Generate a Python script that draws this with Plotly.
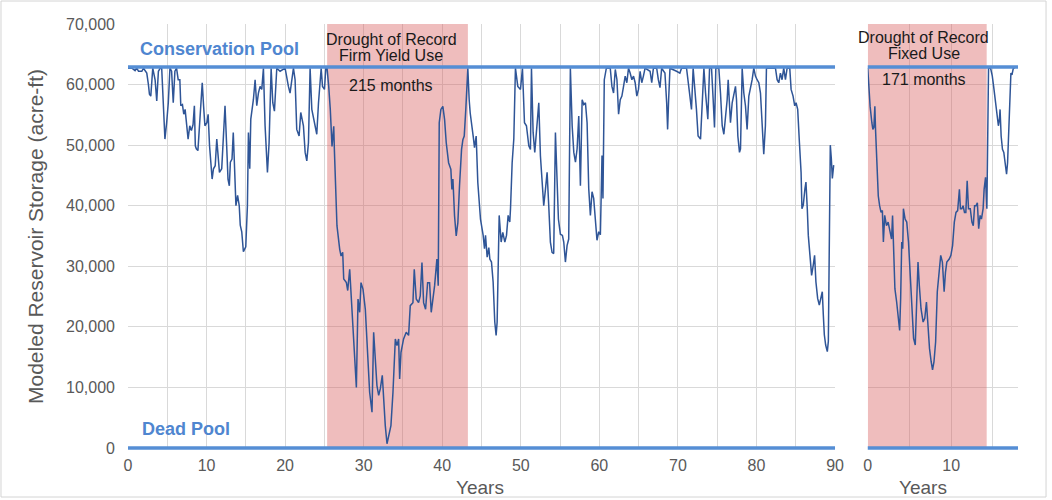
import plotly.graph_objects as go

# ---- Modeled storage, full period of record (years, acre-ft) ----
firm_years = [
    0.0, 0.5, 0.9, 1.1, 1.34, 1.76, 1.97, 2.39, 2.6, 2.73, 2.9, 3.15, 3.45, 3.66, 3.87, 4.1,
    4.29, 4.5, 4.7, 4.92, 5.13, 5.34, 5.55, 5.76, 5.97, 6.18, 6.39, 6.6, 6.72, 6.93, 7.1, 7.27,
    7.44, 7.65, 7.86, 8.07, 8.28, 8.45, 8.57, 8.7, 8.9, 9.2, 9.45, 9.62, 9.79, 10.04, 10.2,
    10.38, 10.59, 10.71, 10.88, 11.1, 11.3, 11.47, 11.64, 11.93, 12.14, 12.35, 12.56, 12.73,
    12.9, 13.03, 13.24, 13.4, 13.57, 13.74, 13.95, 14.16, 14.29, 14.48, 14.69, 14.99, 15.2,
    15.33, 15.5, 15.63, 15.96, 16.18, 16.39, 16.6, 16.81, 17.03, 17.24, 17.45, 17.75, 17.96,
    18.22, 18.43, 18.64, 18.94, 19.36, 20.0, 20.42, 20.63, 21.06, 21.27, 21.48, 21.78, 21.99,
    22.33, 22.55, 22.76, 22.97, 23.18, 23.4, 23.82, 24.03, 24.25, 24.46, 24.59, 24.76, 25.01,
    25.18, 25.34, 25.55, 25.75, 25.97, 26.19, 26.27, 26.6, 26.95, 27.12, 27.33, 27.46, 27.8,
    27.97, 28.22, 28.39, 28.6, 28.81, 29.07, 29.28, 29.49, 29.66, 29.92, 30.21, 30.51, 30.76,
    31.06, 31.27, 31.48, 31.69, 31.91, 32.12, 32.37, 32.54, 32.75, 32.97, 33.18, 33.47, 33.73,
    34.03, 34.24, 34.45, 34.58, 34.75, 35.08, 35.42, 35.72, 35.93, 36.27, 36.44, 36.69, 36.99,
    37.2, 37.42, 37.63, 37.88, 38.14, 38.39, 38.6, 38.81, 39.03, 39.32, 39.49, 39.62, 39.83,
    40.08, 40.3, 40.51, 40.81, 41.1, 41.23, 41.36, 41.57, 41.78, 41.99, 42.2, 42.46, 42.63,
    42.8, 43.0, 43.26, 43.43, 43.56, 43.94, 44.11, 44.32, 44.53, 44.87, 45.21, 45.38, 45.51,
    45.72, 45.93, 46.06, 46.27, 46.48, 46.69, 46.86, 46.99, 47.25, 47.5, 47.71, 47.97, 48.18,
    48.39, 48.6, 48.69, 48.9, 49.11, 49.32, 49.62, 49.96, 50.21, 50.47, 50.72, 51.02, 51.23,
    51.36, 51.57, 51.78, 51.99, 52.29, 52.5, 52.71, 52.92, 53.14, 53.35, 53.56, 53.77, 53.98,
    54.19, 54.41, 54.62, 54.79, 55.04, 55.3, 55.47, 55.68, 55.89, 56.1, 56.31, 56.54, 56.75,
    56.96, 57.17, 57.38, 57.59, 57.81, 58.02, 58.23, 58.44, 58.65, 58.86, 59.07, 59.28, 59.49,
    59.7, 59.92, 60.13, 60.34, 60.46, 60.63, 60.89, 61.39, 61.6, 61.81, 62.03, 62.24, 62.45,
    62.66, 62.87, 63.08, 63.29, 63.5, 63.71, 63.92, 64.14, 64.35, 64.56, 64.77, 64.98, 65.19,
    65.4, 65.61, 65.82, 66.46, 66.67, 66.88, 67.3, 67.51, 67.72, 67.93, 68.35, 68.57, 68.69,
    68.82, 68.99, 69.83, 70.25, 70.46, 71.1, 71.73, 71.94, 72.36, 72.57, 72.88, 73.09, 73.31,
    73.52, 73.81, 74.03, 74.28, 74.49, 74.66, 74.83, 75.21, 75.42, 75.64, 75.85, 76.06, 76.27,
    76.4, 76.53, 76.69, 76.91, 77.12, 77.33, 77.46, 77.63, 77.84, 77.97, 78.18, 78.39, 78.6,
    78.81, 79.03, 79.24, 79.45, 79.66, 79.87, 80.08, 80.3, 80.51, 80.72, 80.93, 81.14, 81.27,
    82.42, 82.63, 82.84, 83.05, 83.26, 83.47, 83.69, 83.9, 84.24, 84.41, 84.66, 84.87, 85.04,
    85.25, 85.47, 85.68, 85.79, 85.96, 86.17, 86.3, 86.47, 86.6, 86.81, 87.02, 87.23, 87.4,
    87.57, 87.79, 88.0, 88.21, 88.38, 88.51, 88.64, 88.81, 89.02, 89.15, 89.28, 89.4, 89.53,
    89.66, 89.83,
]
firm_storage = [
    62700, 62700, 62300, 62700, 62200, 62200, 62700, 61900, 60000, 58400, 58100, 62700, 60800, 57300, 62200, 62700,
    62700, 55900, 51000, 53700, 57000, 62700, 62200, 57000, 62200, 62700, 60800, 60800, 56500, 56700, 55100, 55900,
    53200, 51000, 53200, 52400, 53400, 56500, 49900, 49400, 49100, 54300, 60300, 56500, 53200, 53700, 55100,
    49900, 46100, 44400, 46100, 46600, 51000, 47700, 45500, 46100, 51500, 56500, 49900, 44400,
    43300, 47200, 47700, 52100, 46100, 40000, 41700, 40000, 36800, 35700, 32400, 33200, 40000,
    52100, 46100, 54300, 57500, 60800, 56500, 58600, 59700, 59200, 62700, 53200, 45500, 50400,
    62700, 57000, 55600, 62700, 62200, 62700, 59700, 58600, 62700, 60800, 52600, 51500, 55400,
    53200, 48800, 47400, 50400, 62700, 55900, 53400, 51800, 57000, 60800, 62700, 59700, 59200,
    62700, 62700, 59700, 55900, 49800, 53100, 49300, 36700, 32800, 31700, 32300, 27900, 27300,
    26000, 29500, 25700, 19600, 14700, 10000, 24600, 22400, 27300, 26200, 22900, 14700, 9200,
    5900, 19100, 14700, 10300, 8700, 9800, 12000, 7600, 3700, 700, 2000, 3700, 9200,
    18000, 16900, 18000, 11400, 15800, 18000, 19100, 18600, 23500, 24000, 29500, 24600, 24000,
    25100, 30600, 24000, 22900, 27300, 27300, 22400, 24600, 26800, 31200, 26800, 53700, 55900,
    56400, 54200, 50400, 47100, 46000, 42700, 44400, 38300, 35000, 37200, 43300, 49300, 50900,
    51500, 55900, 62700, 57500, 55300, 51500, 49600, 51500, 43800, 37800, 35100, 32900, 35100,
    31500, 33100, 31200, 30700, 27400, 20800, 18600, 20800, 38400, 34000, 35600, 34000, 35100,
    38400, 37300, 39500, 47100, 51000, 62700, 59700, 59200, 62700, 53700, 53200, 49900, 49300,
    62700, 52100, 48800, 52600, 57000, 48200, 43300, 40000, 42700, 45500, 40000, 34000, 32300,
    32100, 52100, 43800, 37800, 35300, 35100, 34000, 30700, 33400, 34500, 62700, 53200, 48800,
    47200, 49400, 54800, 43300, 57500, 56700, 57000, 53700, 42800, 38400, 42300, 41200, 36800,
    34300, 35700, 35200, 48300, 41200, 60800, 62700, 62700, 59700, 58600, 62500, 60800, 55100,
    57500, 58100, 59700, 61400, 60300, 62700, 61900, 60800, 61400, 60300, 58100, 59200, 62200,
    60300, 61400, 62700, 62200, 60300, 62700, 62700, 60800, 59500, 62700, 61900, 57000, 52600,
    57500, 62700, 62200, 61900, 62700, 62700, 55900, 62700, 55900, 51500, 51000, 57000, 62700,
    58600, 54300, 62700, 62700, 57500, 52900, 62700, 62700, 58600, 53200, 51800, 54800, 57500,
    60800, 56500, 53700, 57000, 58100, 59700, 57500, 51500, 48800, 49400, 62700, 58600, 56500,
    52600, 58100, 59200, 60800, 62700, 61400, 60800, 60300, 58600, 53200, 48500, 53200, 62700,
    62700, 60800, 60300, 61900, 60800, 62700, 60800, 62700, 62700, 59200, 58100, 56500, 57000,
    55900, 50400, 45500, 39500, 40100, 42800, 43900, 39500, 35100, 31800, 28500, 30200, 31800,
    27400, 24700, 23600, 25200, 25800, 22000, 18700, 17000, 15900, 17600, 32900, 50000, 47800,
    44500, 46700,
]

# ---- Modeled storage, drought-of-record run at fixed use (years, acre-ft) ----
fixed_years = [
    0.0, 0.12, 0.28, 0.49, 0.61, 0.73, 0.85, 0.93, 1.1, 1.26, 1.42, 1.59, 1.75, 1.87, 2.03,
    2.24, 2.44, 2.64, 2.85, 2.97, 3.13, 3.25, 3.46, 3.66, 3.82, 3.94, 4.07, 4.19, 4.27, 4.47,
    4.67, 4.88, 5.08, 5.28, 5.49, 5.69, 5.85, 6.02, 6.18, 6.38, 6.63, 6.83, 7.03, 7.2, 7.4,
    7.6, 7.76, 7.93, 8.13, 8.33, 8.54, 8.74, 8.94, 9.15, 9.31, 9.47, 9.76, 9.96, 10.16, 10.37,
    10.57, 10.77, 10.98, 11.1, 11.26, 11.42, 11.59, 11.75, 11.91, 12.07, 12.28, 12.48, 12.64,
    12.8, 12.97, 13.13, 13.29, 13.46, 13.62, 13.82, 13.94, 14.11, 14.27, 14.35, 14.47, 14.72,
    14.92, 15.08, 15.24, 15.37, 15.53, 15.65, 15.77, 15.85, 15.98, 16.14, 16.3, 16.46, 16.63,
    16.75, 16.87, 16.99, 17.15, 17.28, 17.44, 17.6,
]
fixed_storage = [
    62700, 59700, 56400, 53700, 52600, 52900, 56400, 52600, 46000, 41600, 40000, 38900, 39200, 34000, 38400,
    36700, 37300, 35600, 34500, 38400, 31200, 26300, 24100, 21900, 19400, 24700, 34000, 32900, 39500, 37800,
    37300, 34000, 29000, 22500, 18100, 17000, 23000, 30700, 26800, 23000, 20800, 21400, 24100, 19700, 16400,
    14200, 12900, 14200, 17500, 25800, 29600, 31800, 30700, 25800, 29000, 30700, 31200, 31800, 33400, 37300,
    38900, 39200, 42700, 39500, 39500, 40000, 38900, 38900, 44100, 39500, 39500, 37300, 36700,
    40000, 40000, 40500, 36200, 38400, 37800, 39500, 42700, 44700, 39500, 50400, 62700, 62700,
    61400, 59700, 58100, 56400, 54800, 53200, 54200, 55900, 51500, 49300, 48800, 46600, 45200,
    47100, 51500, 57000, 61900, 61600, 62700, 62700,
]

# Pool levels (acre-ft)
CONSERVATION_POOL = 62900
DEAD_POOL = 0
STORAGE_MAX = 70000

# Critical drought windows
firm_drought_start = 25.35   # years into the record
firm_drought_months = 215
fixed_drought_start = 0.0
fixed_drought_months = 171

FONT = "Liberation Sans, Arial, sans-serif"
GRID = "#d9d9d9"
TICK = "#595959"
LINE = "#2F5597"
POOL = "#558ED5"
POOL_TEXT = "#4F86D0"
DROUGHT_FILL = "rgba(214, 90, 90, 0.40)"

fig = go.Figure()

# drought windows as translucent bands drawn above the grid
for xa, ya, start, months in (("x", "y", firm_drought_start, firm_drought_months),
                              ("x2", "y2", fixed_drought_start, fixed_drought_months)):
    end = start + months / 12.0
    fig.add_trace(go.Scatter(x=[start, end, end, start, start],
                             y=[DEAD_POOL, DEAD_POOL, STORAGE_MAX, STORAGE_MAX, DEAD_POOL],
                             mode="lines", fill="toself", fillcolor=DROUGHT_FILL,
                             line=dict(width=0), xaxis=xa, yaxis=ya,
                             showlegend=False, hoverinfo="skip"))

fig.add_trace(go.Scatter(x=firm_years, y=firm_storage, mode="lines",
                         line=dict(color=LINE, width=1.5), xaxis="x", yaxis="y",
                         showlegend=False, hoverinfo="skip"))
fig.add_trace(go.Scatter(x=fixed_years, y=fixed_storage, mode="lines",
                         line=dict(color=LINE, width=1.5), xaxis="x2", yaxis="y2",
                         showlegend=False, hoverinfo="skip"))

shapes = []
# pool levels; the dead pool sits on the axis floor, so it is placed in paper
# units (range starts at 0) to keep the full line width unclipped
dead_frac = DEAD_POOL / STORAGE_MAX
for xr, yr in (("x domain", "y"), ("x2 domain", "y2")):
    shapes.append(dict(type="line", xref=xr, yref=yr, x0=0, x1=1,
                       y0=CONSERVATION_POOL, y1=CONSERVATION_POOL,
                       line=dict(color=POOL, width=3.5), layer="above"))
    shapes.append(dict(type="line", xref=xr, yref="paper", x0=0, x1=1,
                       y0=dead_frac, y1=dead_frac,
                       line=dict(color=POOL, width=3.5), layer="above"))
# outer frame
shapes.append(dict(type="rect", xref="paper", yref="paper",
                   x0=-0.1427, x1=1.0315, y0=-0.1156, y1=1.0542,
                   line=dict(color="#d4d4d4", width=1), fillcolor="rgba(0,0,0,0)"))

annotations = [
    dict(text="<b>Conservation Pool</b>", x=1.27, y=65900, xref="x", yref="y",
         xanchor="left", yanchor="middle", showarrow=False,
         font=dict(family=FONT, size=18, color=POOL_TEXT)),
    dict(text="<b>Dead Pool</b>", x=1.5, y=3100, xref="x", yref="y",
         xanchor="left", yanchor="middle", showarrow=False,
         font=dict(family=FONT, size=18, color=POOL_TEXT)),
    dict(text="Drought of Record", x=33.5, y=67500, xref="x", yref="y",
         xanchor="center", yanchor="middle", showarrow=False,
         font=dict(family=FONT, size=16, color="#1a1a1a")),
    dict(text="Firm Yield Use", x=33.5, y=64800, xref="x", yref="y",
         xanchor="center", yanchor="middle", showarrow=False,
         font=dict(family=FONT, size=16, color="#1a1a1a")),
    dict(text=f"{firm_drought_months} months", x=33.5, y=59900, xref="x", yref="y",
         xanchor="center", yanchor="middle", showarrow=False,
         font=dict(family=FONT, size=16, color="#1a1a1a")),
    dict(text="Drought of Record", x=6.73, y=67850, xref="x2", yref="y2",
         xanchor="center", yanchor="middle", showarrow=False,
         font=dict(family=FONT, size=16, color="#1a1a1a")),
    dict(text="Fixed Use", x=6.73, y=65050, xref="x2", yref="y2",
         xanchor="center", yanchor="middle", showarrow=False,
         font=dict(family=FONT, size=16, color="#1a1a1a")),
    dict(text=f"{fixed_drought_months} months", x=6.73, y=60900, xref="x2", yref="y2",
         xanchor="center", yanchor="middle", showarrow=False,
         font=dict(family=FONT, size=16, color="#1a1a1a")),
    dict(text="Years", x=0.3955, y=-0.094, xref="paper", yref="paper",
         xanchor="center", yanchor="middle", showarrow=False,
         font=dict(family=FONT, size=19, color=TICK)),
    dict(text="Years", x=0.893, y=-0.094, xref="paper", yref="paper",
         xanchor="center", yanchor="middle", showarrow=False,
         font=dict(family=FONT, size=19, color=TICK)),
    dict(text="Modeled Reservoir Storage (acre-ft)", x=-0.1045, y=0.5, xref="paper", yref="paper",
         xanchor="center", yanchor="middle", textangle=-90, showarrow=False,
         font=dict(family=FONT, size=21, color=TICK)),
]

xaxis_common = dict(showgrid=True, gridcolor=GRID, gridwidth=1, zeroline=False, showline=False,
                    ticks="", dtick=10, tick0=0, tickfont=dict(family=FONT, size=16, color=TICK),
                    minor=dict(dtick=5, tick0=0, showgrid=True, gridcolor=GRID, gridwidth=1),
                    ticklabelstandoff=6, fixedrange=True)
yaxis_common = dict(range=[0, STORAGE_MAX], dtick=10000, tick0=0, showgrid=True, gridcolor=GRID,
                    gridwidth=1, zeroline=False, showline=False, ticks="", fixedrange=True)

fig.update_layout(
    width=1052, height=500, autosize=False,
    margin=dict(l=128, r=34, t=24, b=52),
    paper_bgcolor="white", plot_bgcolor="white",
    font=dict(family=FONT, color=TICK),
    xaxis=dict(domain=[0, 0.7944], range=[0, 90], anchor="y", **xaxis_common),
    xaxis2=dict(domain=[0.8312, 1.0], range=[0, 18], anchor="y2", **xaxis_common),
    yaxis=dict(anchor="x", tickformat=",d", tickfont=dict(family=FONT, size=16, color=TICK),
               ticklabelstandoff=12, **yaxis_common),
    yaxis2=dict(anchor="x2", showticklabels=False, **yaxis_common),
    shapes=shapes,
    annotations=annotations,
)

fig.write_html("out.html")
